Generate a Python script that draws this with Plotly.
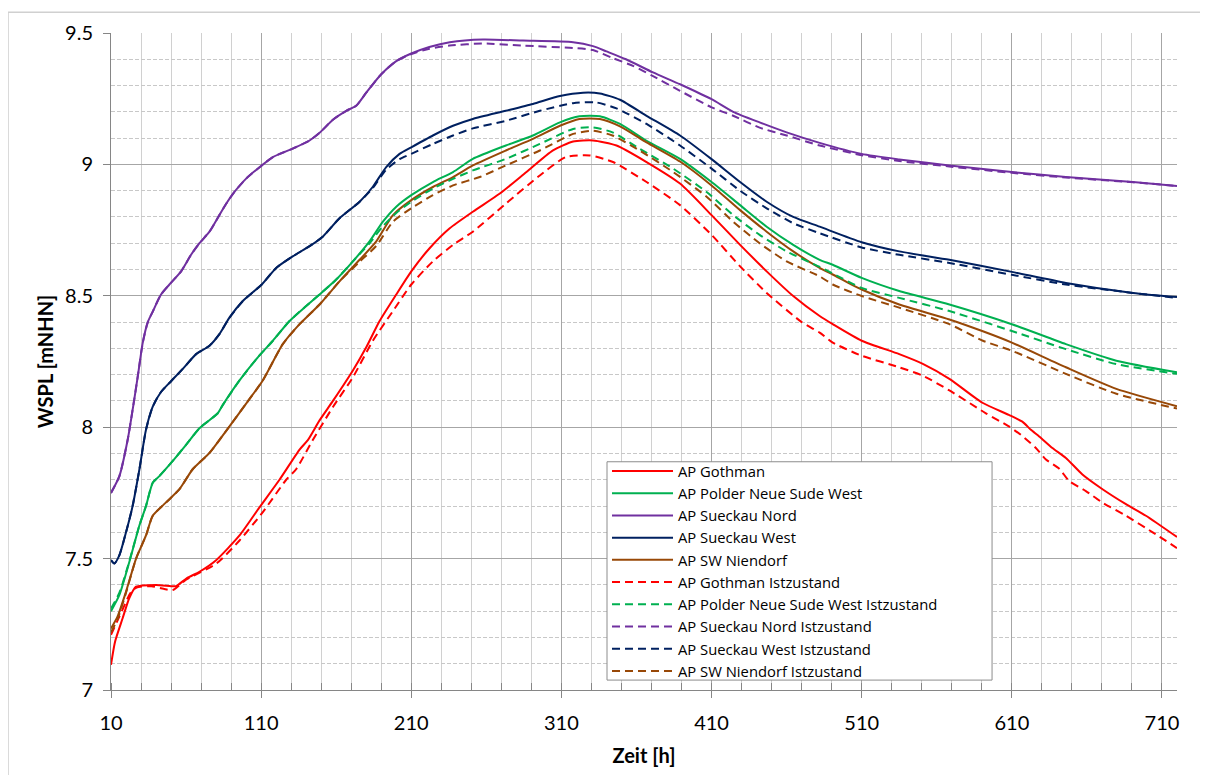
import plotly.graph_objects as go

# ---------------- data ----------------
names = ["AP Gothman", "AP Polder Neue Sude West", "AP Sueckau Nord",
         "AP Sueckau West", "AP SW Niendorf"]
suffix = " Istzustand"
colors = ["#FF0000", "#00B050", "#7030A0", "#002060", "#984807"]

# AP Gothman
goth_x = [10, 12.7, 17.8, 22.2, 26.7, 40, 50, 53.3, 60.4, 68.9, 80, 95.6, 108.9, 122.2, 135.6, 141.1,
          148.9, 157.8, 171.1, 180, 188.9, 200, 210, 222.2, 235.6, 251, 269, 286.7, 304.4, 317.8,
          331, 346.7, 366.7, 389, 410, 429, 446.7, 464.4, 482, 490.7, 510, 535, 550.7, 568.4,
          590.4, 608, 617, 622.7, 628.2, 637, 646, 657, 670.4, 686, 699.3, 720]
goth_y = [7.096, 7.184, 7.274, 7.35, 7.393, 7.40, 7.395, 7.395, 7.425, 7.45, 7.494, 7.588, 7.695, 7.80, 7.915, 7.951,
          8.026, 8.10, 8.216, 8.304, 8.404, 8.505, 8.593, 8.681, 8.757, 8.82, 8.889, 8.971, 9.053, 9.087,
          9.091, 9.072, 9.009, 8.927, 8.807, 8.694, 8.593, 8.499, 8.423, 8.392, 8.329, 8.278, 8.241, 8.184,
          8.093, 8.047, 8.021, 7.99, 7.965, 7.921, 7.883, 7.82, 7.764, 7.707, 7.663, 7.582]

goth_ist_x = [10, 14, 18, 23, 27, 37, 45, 51, 60, 80, 95.6, 111, 126.7, 133.3, 144.4, 157.8, 171.1,
              184.4, 197.8, 210, 224.4, 237.8, 251, 273, 295.6, 313, 329, 344.4, 366.7, 389, 410,
              429, 446.7, 470, 482, 490.7, 510, 535, 550.7, 568.4, 592.7, 608, 616, 626, 632.7,
              641.6, 648.2, 659.3, 670.4, 686, 703.8, 720]
goth_ist_y = [7.21, 7.26, 7.31, 7.37, 7.39, 7.395, 7.385, 7.38, 7.42, 7.48, 7.569, 7.676, 7.80, 7.84, 7.951, 8.077, 8.19,
              8.329, 8.442, 8.543, 8.631, 8.694, 8.744, 8.851, 8.958, 9.028, 9.034, 9.009, 8.933, 8.845, 8.732,
              8.612, 8.511, 8.40, 8.36, 8.322, 8.272, 8.228, 8.196, 8.14, 8.053, 8.003, 7.971, 7.921, 7.877,
              7.842, 7.795, 7.757, 7.713, 7.663, 7.60, 7.54]

# AP Polder Neue Sude West
pol_x = [10, 15.6, 22.2, 28.9, 33.3, 37.8, 42.2, 50, 60, 68.9, 81.1, 84.4, 95.6, 107.8, 117.8, 128.9,
         140, 148.9, 160, 171.1, 182.2, 191.1, 200, 210, 224.4, 237.8, 251, 273, 291, 309, 322, 335.6,
         349, 366.7, 389, 410, 429, 446.7, 464.4, 482, 490.7, 510, 535, 568.4, 610, 646, 679.6, 720]
pol_y = [7.30, 7.362, 7.487, 7.626, 7.70, 7.789, 7.814, 7.864, 7.933, 7.996, 8.053, 8.084, 8.178, 8.266, 8.329, 8.404,
         8.461, 8.505, 8.562, 8.631, 8.707, 8.782, 8.839, 8.883, 8.933, 8.971, 9.021, 9.072, 9.11, 9.16, 9.183, 9.183,
         9.154, 9.09, 9.021, 8.933, 8.845, 8.763, 8.694, 8.637, 8.618, 8.568, 8.518, 8.467, 8.392, 8.316, 8.253, 8.209]

pol_ist_x = [10, 15.6, 22.2, 28.9, 33.3, 37.8, 42.2, 50, 60, 68.9, 81.1, 84.4, 95.6, 107.8, 117.8, 128.9,
             140, 148.9, 160, 171.1, 182.2, 191.1, 200, 210, 224.4, 237.8, 251, 273, 295.6, 317.8, 331,
             344, 362, 384.4, 406.7, 424.4, 442, 460, 482, 490.7, 510, 535, 568.4, 610, 646, 679.6, 720]
pol_ist_y = [7.31, 7.37, 7.49, 7.626, 7.70, 7.789, 7.814, 7.864, 7.933, 7.996, 8.053, 8.084, 8.178, 8.266, 8.329, 8.404,
             8.461, 8.505, 8.562, 8.631, 8.70, 8.765, 8.815, 8.858, 8.908, 8.945, 8.977, 9.021, 9.078, 9.135, 9.141,
             9.122, 9.06, 8.984, 8.895, 8.807, 8.732, 8.669, 8.610, 8.585, 8.53, 8.492, 8.442, 8.366, 8.297, 8.24, 8.203]

# AP Sueckau Nord
nord_x = [10, 15.6, 21.1, 25.6, 28, 31.1, 34.5, 37.8, 43.3, 48.9, 56.7, 63.3, 68.9, 75.6, 82.2, 86.7,
          92.2, 100, 110.4, 117.8, 131, 142, 148.9, 157.8, 166.7, 173.3, 180, 190, 200, 210, 222,
          235.6, 257.8, 284.4, 317.8, 331, 340, 353, 371, 389, 410, 424.4, 442, 460, 482, 510, 535,
          568.4, 610, 646, 690.7, 720]
nord_y = [7.75, 7.814, 7.952, 8.11, 8.20, 8.32, 8.40, 8.44, 8.505, 8.543, 8.593, 8.656, 8.70, 8.744, 8.807, 8.85,
          8.895, 8.946, 8.996, 9.028, 9.06, 9.09, 9.12, 9.17, 9.204, 9.223, 9.273, 9.343, 9.393, 9.422, 9.447,
          9.465, 9.475, 9.471, 9.465, 9.45, 9.43, 9.40, 9.35, 9.305, 9.248, 9.20, 9.16, 9.122, 9.082, 9.04, 9.019,
          8.996, 8.971, 8.952, 8.933, 8.918]

nord_ist_x = [10, 15.6, 21.1, 25.6, 28, 31.1, 34.5, 37.8, 43.3, 48.9, 56.7, 63.3, 68.9, 75.6, 82.2, 86.7,
              92.2, 100, 110.4, 117.8, 131, 142, 148.9, 157.8, 166.7, 173.3, 180, 190, 200, 210, 222,
              235.6, 257.8, 284.4, 317.8, 331, 344, 358, 371, 389, 410, 424.4, 442, 460, 482, 510, 535,
              568.4, 610, 646, 690.7, 720]
nord_ist_y = [7.75, 7.814, 7.952, 8.11, 8.20, 8.32, 8.40, 8.44, 8.505, 8.543, 8.593, 8.656, 8.70, 8.744, 8.807, 8.85,
              8.895, 8.946, 8.996, 9.028, 9.06, 9.09, 9.12, 9.17, 9.204, 9.223, 9.273, 9.343, 9.393, 9.42, 9.44,
              9.452, 9.46, 9.452, 9.443, 9.435, 9.405, 9.374, 9.336, 9.28, 9.217, 9.185, 9.14, 9.11, 9.072, 9.035, 9.013,
              8.992, 8.968, 8.95, 8.932, 8.918]

# AP Sueckau West
west_x = [10, 12.2, 15.6, 20, 24.4, 28.9, 33.3, 37.8, 43.3, 50, 57.8, 66.7, 75.6, 82.2, 88.9, 97.8,
          110.4, 120, 131, 142, 151, 162.2, 175.6, 184.4, 193.3, 202.2, 210, 224.4, 237.8, 251, 273,
          291, 309, 324.4, 335.6, 349, 366.7, 389, 410, 429, 446.7, 464.4, 482, 510, 535, 568.4, 610,
          646, 690.7, 720]
west_y = [7.494, 7.481, 7.513, 7.60, 7.70, 7.839, 7.99, 8.078, 8.134, 8.175, 8.222, 8.278, 8.31, 8.354, 8.417, 8.48,
          8.543, 8.606, 8.65, 8.688, 8.725, 8.795, 8.858, 8.915, 8.99, 9.04, 9.065, 9.11, 9.147, 9.173, 9.204,
          9.23, 9.26, 9.273, 9.27, 9.246, 9.185, 9.11, 9.02, 8.933, 8.858, 8.80, 8.763, 8.704, 8.669, 8.637, 8.591,
          8.549, 8.511, 8.495]

west_ist_x = [10, 12.2, 15.6, 20, 24.4, 28.9, 33.3, 37.8, 43.3, 50, 57.8, 66.7, 75.6, 82.2, 88.9, 97.8,
              110.4, 120, 131, 142, 151, 162.2, 175.6, 184.4, 193.3, 202.2, 210, 224.4, 237.8, 251, 273,
              295.6, 317.8, 333, 346.7, 366.7, 389, 410, 429, 446.7, 464.4, 482, 510, 535, 568.4, 610,
              646, 690.7, 720]
west_ist_y = [7.494, 7.481, 7.513, 7.60, 7.70, 7.839, 7.99, 8.078, 8.134, 8.175, 8.222, 8.278, 8.31, 8.354, 8.417, 8.48,
              8.543, 8.606, 8.65, 8.688, 8.725, 8.795, 8.858, 8.91, 8.98, 9.02, 9.04, 9.078, 9.11, 9.137, 9.166,
              9.204, 9.233, 9.236, 9.213, 9.154, 9.072, 8.984, 8.90, 8.833, 8.776, 8.738, 8.684, 8.656, 8.625, 8.58,
              8.543, 8.511, 8.492]

# AP SW Niendorf
nien_x = [10, 14.4, 20, 26.7, 33.3, 37.8, 46.7, 55.6, 64.4, 75.6, 88.9, 100, 111.1, 124.4, 135.6,
          148.9, 162.2, 175.6, 186.7, 197.8, 210, 224.4, 237.8, 251, 273, 291, 309, 322, 335.6, 349,
          366.7, 389, 410, 429, 446.7, 464.4, 482, 490.7, 510, 535, 568.4, 590.7, 610, 646, 679.6, 720]
nien_y = [7.234, 7.28, 7.374, 7.50, 7.588, 7.663, 7.714, 7.764, 7.84, 7.902, 8.003, 8.09, 8.178, 8.316, 8.392,
          8.467, 8.555, 8.637, 8.707, 8.807, 8.864, 8.914, 8.952, 8.996, 9.053, 9.097, 9.147, 9.173, 9.173, 9.145,
          9.084, 9.011, 8.92, 8.826, 8.744, 8.669, 8.606, 8.581, 8.524, 8.467, 8.41, 8.365, 8.322, 8.228, 8.146, 8.08]

nien_ist_x = [10, 14.4, 20, 26.7, 33.3, 37.8, 46.7, 55.6, 64.4, 75.6, 88.9, 100, 111.1, 124.4, 135.6,
              148.9, 162.2, 175.6, 186.7, 197.8, 210, 224.4, 237.8, 255.6, 273, 295.6, 317.8, 331, 344,
              362, 384.4, 406.7, 424.4, 442, 460, 482, 490.7, 510, 535, 568.4, 590.7, 610, 646, 679.6, 720]
nien_ist_y = [7.22, 7.27, 7.37, 7.50, 7.588, 7.663, 7.714, 7.764, 7.84, 7.902, 8.003, 8.09, 8.178, 8.316, 8.392,
              8.467, 8.555, 8.63, 8.69, 8.782, 8.833, 8.883, 8.92, 8.952, 8.996, 9.053, 9.116, 9.128, 9.11,
              9.053, 8.971, 8.877, 8.782, 8.70, 8.631, 8.574, 8.543, 8.499, 8.455, 8.392, 8.329, 8.291, 8.203, 8.127, 8.071]

solid_series = [(goth_x, goth_y), (pol_x, pol_y), (nord_x, nord_y), (west_x, west_y), (nien_x, nien_y)]
ist_series = [(goth_ist_x, goth_ist_y), (pol_ist_x, pol_ist_y), (nord_ist_x, nord_ist_y),
              (west_ist_x, west_ist_y), (nien_ist_x, nien_ist_y)]

x_tick_vals = [10, 110, 210, 310, 410, 510, 610, 710]
y_tick_vals = [7, 7.5, 8, 8.5, 9, 9.5]
y_tick_text = ["7", "7.5", "8", "8.5", "9", "9.5"]

# ---------------- figure ----------------
FONT = "Lato, 'Open Sans', sans-serif"
LEG_FONT = "'Open Sans', Lato, sans-serif"
fig = go.Figure()

for (xs, ys), name, col in zip(solid_series, names, colors):
    fig.add_trace(go.Scatter(x=xs, y=ys, mode="lines", name=name,
                             line=dict(color=col, width=2, shape="spline", smoothing=0.6)))
for (xs, ys), name, col in zip(ist_series, names, colors):
    fig.add_trace(go.Scatter(x=xs, y=ys, mode="lines", name=name + suffix,
                             line=dict(color=col, width=2, dash="8px,5px", shape="spline", smoothing=0.6)))

fig.update_layout(
    width=1192, height=767,
    margin=dict(l=103, r=23, t=22, b=83),
    paper_bgcolor="white", plot_bgcolor="white",
    font=dict(family=FONT, color="black"),
    showlegend=True,
    legend=dict(x=0.4653, y=0.358, xanchor="left", yanchor="top",
                bgcolor="rgba(0,0,0,0)", borderwidth=0,
                font=dict(size=14.8, family=LEG_FONT), tracegroupgap=0, itemwidth=61,
                traceorder="normal"),
    xaxis=dict(range=[10, 720], tickmode="array", tickvals=x_tick_vals,
               ticktext=[str(v) for v in x_tick_vals],
               showline=True, linecolor="#868686", linewidth=1,
               ticks="outside", ticklen=7, tickcolor="#868686", ticklabelstandoff=8,
               showgrid=True, gridcolor="#A6A6A6", gridwidth=1,
               zeroline=False, tickfont=dict(size=20, family=FONT),
               title=dict(text="<b>Zeit [h]</b>", font=dict(size=20, family=FONT), standoff=15),
               minor=dict(tick0=10, dtick=20, showgrid=True, gridcolor="#D0D0D0", gridwidth=1,
                          ticks="inside", ticklen=7, tickcolor="#868686")),
    yaxis=dict(range=[7, 9.5], tickmode="array", tickvals=y_tick_vals, ticktext=y_tick_text,
               showline=True, linecolor="#868686", linewidth=1,
               ticks="outside", ticklen=7, tickcolor="#868686", ticklabelstandoff=6,
               showgrid=True, gridcolor="#A6A6A6", gridwidth=1,
               zeroline=False, tickfont=dict(size=20, family=FONT),
               title=dict(text="<b>WSPL [mNHN]</b>", font=dict(size=20, family=FONT), standoff=6),
               minor=dict(tick0=7, dtick=0.1, showgrid=True, gridcolor="#C8C8C8", gridwidth=1,
                          griddash="4px,2px", ticks="")),
    shapes=[
        dict(type="rect", xref="paper", yref="paper", x0=-0.0966, x1=1.05, y0=-0.16, y1=1.0317,
             line=dict(color="#D0D0D0", width=1.5), fillcolor="rgba(0,0,0,0)", layer="below"),
        # legend frame
        dict(type="rect", xref="paper", yref="paper", x0=0.4653, x1=0.8265, y0=0.0151, y1=0.3474,
             line=dict(color="#8C8C8C", width=1), fillcolor="white", layer="above"),
    ],
)

fig.write_html("out.html")
